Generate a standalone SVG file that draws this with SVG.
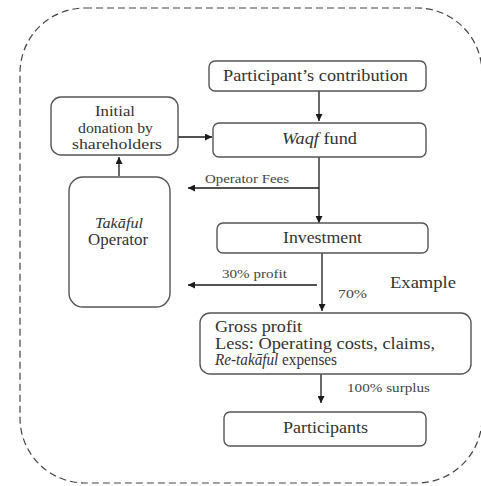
<svg xmlns="http://www.w3.org/2000/svg" width="481" height="486" viewBox="0 0 481 486">
<defs>
<marker id="ah" viewBox="0 0 10 10" refX="10" refY="5" markerWidth="7" markerHeight="7" markerUnits="userSpaceOnUse" orient="auto">
<path d="M0,0 L10,5 L0,10 z" fill="#1a1a1a"/>
</marker>
<style>
.box{fill:#ffffff;stroke:#555555;stroke-width:1.4}
.t{font-family:"Liberation Serif","Times New Roman",serif;font-size:16px;fill:#333333}
.d{font-family:"Liberation Serif","Times New Roman",serif;font-size:15px;fill:#333333}
.s{font-family:"Liberation Serif","Times New Roman",serif;font-size:12.5px;fill:#444444}
.it{font-style:italic}
.c{stroke:#1a1a1a;stroke-width:1.3;fill:none}
</style>
</defs>
<rect width="481" height="486" fill="#ffffff"/>
<rect x="20" y="8" width="462" height="475" rx="65" ry="65" fill="none" stroke="#444444" stroke-width="1.2" stroke-dasharray="7,4"/>
<g id="connectors">
<line class="c" x1="319" y1="91" x2="319" y2="121" marker-end="url(#ah)"/>
<line class="c" x1="178" y1="137" x2="212" y2="137" marker-end="url(#ah)"/>
<line class="c" x1="119" y1="176" x2="119" y2="157" marker-end="url(#ah)"/>
<line class="c" x1="319" y1="157" x2="319" y2="223" marker-end="url(#ah)"/>
<line class="c" x1="319" y1="188" x2="188" y2="188" marker-end="url(#ah)"/>
<line class="c" x1="322" y1="253" x2="322" y2="311" marker-end="url(#ah)"/>
<line class="c" x1="317" y1="285" x2="188" y2="285" marker-end="url(#ah)"/>
<line class="c" x1="321" y1="374" x2="321" y2="403" marker-end="url(#ah)"/>
<text class="s" x="205" y="183" textLength="84" lengthAdjust="spacingAndGlyphs">Operator Fees</text>
<text class="s" x="222" y="278" textLength="65" lengthAdjust="spacingAndGlyphs">30% profit</text>
<text class="s" x="338" y="298" textLength="29" lengthAdjust="spacingAndGlyphs">70%</text>
<text class="s" x="347" y="392" textLength="83" lengthAdjust="spacingAndGlyphs">100% surplus</text>
</g>
<g id="participant-contribution">
<rect class="box" x="209" y="61" width="217" height="30" rx="6"/>
<text class="t" x="223" y="81" textLength="185" lengthAdjust="spacingAndGlyphs">Participant’s contribution</text>
</g>
<g id="waqf-fund">
<rect class="box" x="213" y="123" width="213" height="34" rx="6"/>
<text class="t" x="282" y="144" textLength="75" lengthAdjust="spacingAndGlyphs"><tspan class="it">Waqf</tspan> fund</text>
</g>
<g id="initial-donation">
<rect class="box" x="51" y="97" width="127" height="58" rx="10"/>
<text class="d" x="95" y="116" textLength="40" lengthAdjust="spacingAndGlyphs">Initial</text>
<text class="d" x="78" y="132.5" textLength="75" lengthAdjust="spacingAndGlyphs">donation by</text>
<text class="d" x="72" y="149" textLength="90" lengthAdjust="spacingAndGlyphs">shareholders</text>
</g>
<g id="takaful-operator">
<rect class="box" x="69" y="177" width="101" height="130" rx="14"/>
<text class="it" x="95" y="227.5" textLength="48" lengthAdjust="spacingAndGlyphs" style="font-family:'Liberation Serif','Times New Roman',serif;font-size:14.5px;fill:#333333">Takāful</text>
<text class="t" x="88" y="245" textLength="60" lengthAdjust="spacingAndGlyphs">Operator</text>
</g>
<g id="investment">
<rect class="box" x="217" y="223" width="211" height="30" rx="6"/>
<text class="t" x="283" y="243" textLength="79" lengthAdjust="spacingAndGlyphs">Investment</text>
</g>
<g id="example">
<text class="t" x="390" y="288" textLength="66" lengthAdjust="spacingAndGlyphs">Example</text>
</g>
<g id="gross-profit">
<rect class="box" x="200" y="313" width="271" height="61" rx="10"/>
<text class="t" x="215" y="332" textLength="87" lengthAdjust="spacingAndGlyphs">Gross profit</text>
<text class="t" x="215" y="349" textLength="220" lengthAdjust="spacingAndGlyphs">Less: Operating costs, claims,</text>
<text class="t" x="215" y="365" textLength="122" lengthAdjust="spacingAndGlyphs"><tspan class="it">Re-takāful</tspan> expenses</text>
</g>
<g id="participants">
<rect class="box" x="224" y="412" width="202" height="34" rx="6"/>
<text class="t" x="283" y="433" textLength="85" lengthAdjust="spacingAndGlyphs">Participants</text>
</g>
</svg>
